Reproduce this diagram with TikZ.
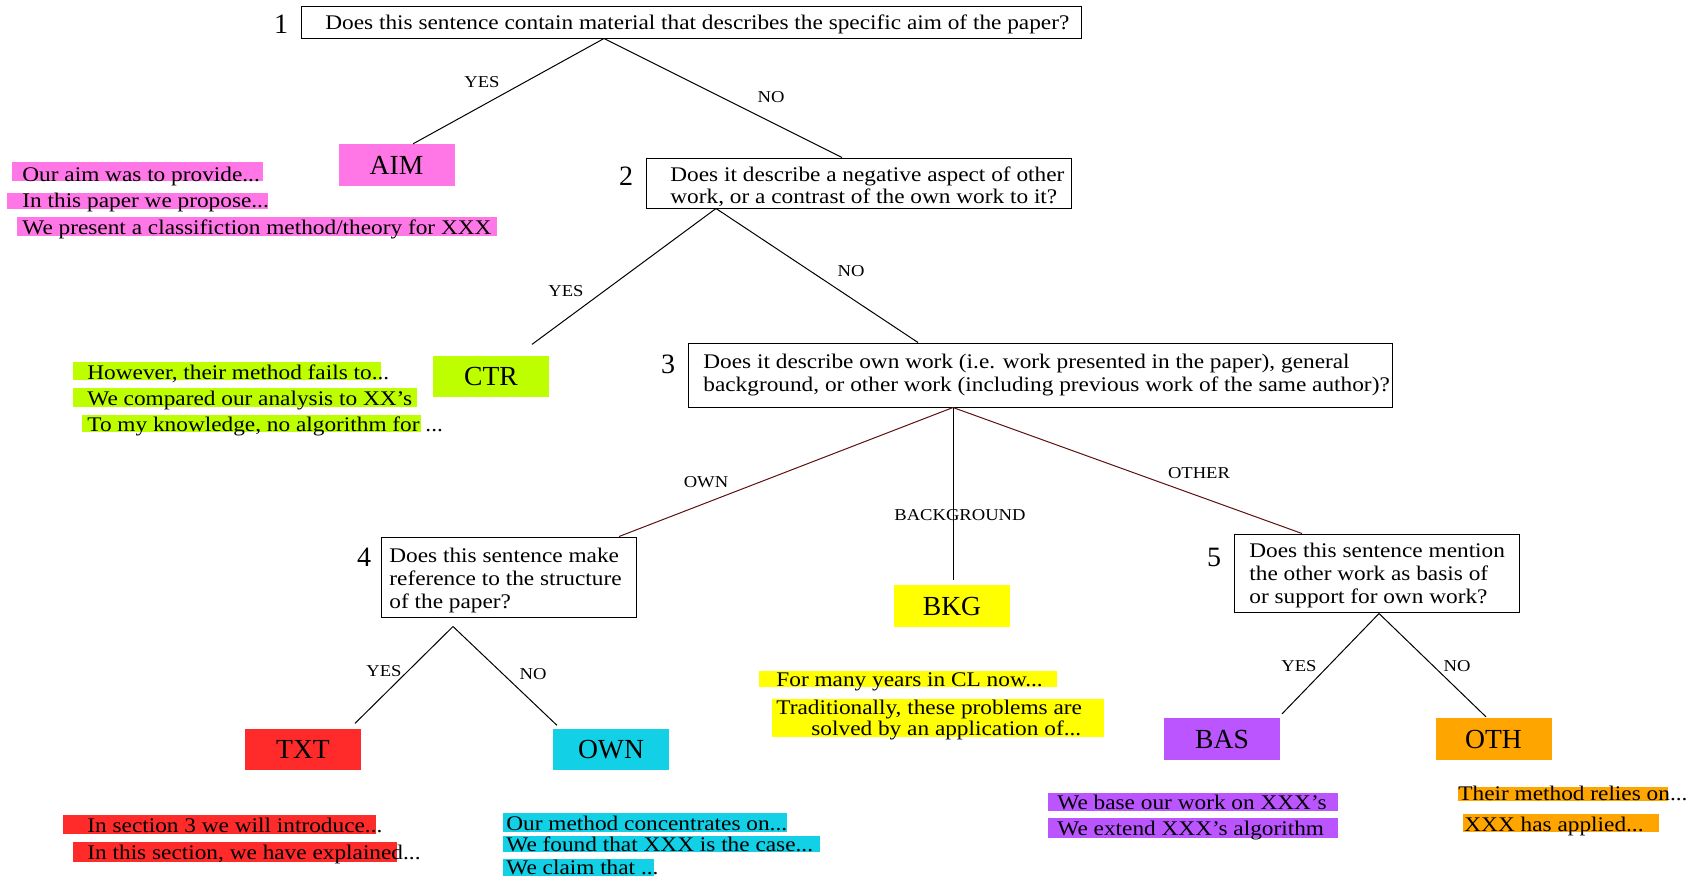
\documentclass[tikz,border=0pt]{standalone}
\usepackage{fontspec}
\setmainfont{Liberation Serif}
\newfontfamily\qfont{Liberation Serif}[FakeStretch=1.12]
\usetikzlibrary{calc,fit}
\definecolor{cAIM}{RGB}{255,119,230}
\definecolor{cCTR}{RGB}{190,255,0}
\definecolor{cTXT}{RGB}{255,42,42}
\definecolor{cOWN}{RGB}{18,208,230}
\definecolor{cBKG}{RGB}{255,255,0}
\definecolor{cBAS}{RGB}{187,85,255}
\definecolor{cOTH}{RGB}{255,165,0}
\definecolor{cLine}{RGB}{95,15,15}
\begin{document}
\begin{tikzpicture}[x=0.5pt,y=-0.5pt,
  qbox/.style={draw,line width=0.5pt,inner sep=0pt},
  qline/.style={anchor=base west,inner sep=0pt,font=\qfont\fontsize{10.4}{11.5}\selectfont},
  sline/.style={anchor=base west,inner sep=0pt,font=\qfont\fontsize{10.4}{11.5}\selectfont},
  numlab/.style={inner sep=0pt,font=\fontsize{14}{16}\selectfont},
  brlab/.style={inner sep=0pt,font=\qfont\fontsize{8.3}{10}\selectfont},
  cbox/.style={inner sep=0pt,minimum width=58pt,minimum height=20.75pt,font=\fontsize{13.8}{15}\selectfont},
  conn/.style={line width=0.5pt},
  dconn/.style={line width=0.5pt,draw=cLine}]
\useasboundingbox (0,0) rectangle (1700,880);

% ---------- question boxes ----------
\node[qbox,fit={(301,6)(1081,38)}] (q1) {};
\node[qline] (q1a) at (325,29) {Does this sentence contain material that describes the specific aim of the paper?};
\node[numlab] (n1) at (281,24) {1};

\node[qbox,fit={(646,158)(1071,208)}] (q2) {};
\node[qline] (q2a) at (670,181) {Does it describe a negative aspect of other};
\node[qline] (q2b) at (670,203) {work, or a contrast of the own work to it?};
\node[numlab] (n2) at (626,176) {2};

\node[qbox,fit={(688,343)(1392,407)}] (q3) {};
\node[qline] (q3a) at (703,368) {Does it describe own work (i.e. work presented in the paper), general};
\node[qline] (q3b) at (703,391) {background, or other work (including previous work of the same author)?};
\node[numlab] (n3) at (668,364) {3};

\node[qbox,fit={(381,537)(636,617)}] (q4) {};
\node[qline] (q4a) at (389,562) {Does this sentence make};
\node[qline] (q4b) at (389,585) {reference to the structure};
\node[qline] (q4c) at (389,608) {of the paper?};
\node[numlab] (n4) at (364,557) {4};

\node[qbox,fit={(1234,534)(1519,612)}] (q5) {};
\node[qline] (q5a) at (1249,557) {Does this sentence mention};
\node[qline] (q5b) at (1249,580) {the other work as basis of};
\node[qline] (q5c) at (1249,603) {or support for own work?};
\node[numlab] (n5) at (1214,557) {5};

% ---------- category boxes ----------
\node[cbox,fill=cAIM] (aim) at (396.5,165) {AIM};
\node[cbox,fill=cCTR] (ctr) at (491,376.5) {CTR};
\node[cbox,fill=cTXT] (txt) at (303,749.5) {TXT};
\node[cbox,fill=cOWN] (own) at (611,749.5) {OWN};
\node[cbox,fill=cBKG] (bkg) at (952,606) {BKG};
\node[cbox,fill=cBAS] (bas) at (1222,739) {BAS};
\node[cbox,fill=cOTH] (oth) at (1493.5,739) {OTH};

% ---------- connectors ----------
\draw[conn] ($(q1.south)+(-87,0)$) -- ($(aim.north)+(16.5,0)$);
\draw[conn] ($(q1.south)+(-87,0)$) -- ($(q2.north)+(-16.5,0)$);
\draw[conn] ($(q2.south)+(-142.5,0)$) -- ($(ctr.north)+(41,-11)$);
\draw[conn] ($(q2.south)+(-142.5,0)$) -- ($(q3.north)+(-122,0)$);
\draw[dconn] ($(q3.south)+(-87,0)$) -- ($(q4.north)+(110.5,0)$);
\draw[conn] ($(q3.south)+(-87,0)$) -- ($(bkg.north)+(1,-5)$);
\draw[dconn] ($(q3.south)+(-87,0)$) -- ($(q5.north)+(-74.5,0)$);
\draw[conn] ($(q4.south)+(-55.5,9)$) -- ($(txt.north)+(52,-5)$);
\draw[conn] ($(q4.south)+(-55.5,9)$) -- ($(own.north)+(-54,-3)$);
\draw[conn] ($(q5.south)+(2.5,1)$) -- ($(bas.north)+(60,-4)$);
\draw[conn] ($(q5.south)+(2.5,1)$) -- ($(oth.north)+(-7.5,-1)$);

% ---------- branch labels ----------
\node[brlab] (l1y) at (482,82) {YES};
\node[brlab] (l1n) at (771,97) {NO};
\node[brlab] (l2y) at (566,291) {YES};
\node[brlab] (l2n) at (851,271) {NO};
\node[brlab] (l3o) at (706,482) {OWN};
\node[brlab] (l3b) at (960,515) {BACKGROUND};
\node[brlab] (l3t) at (1199,473) {OTHER};
\node[brlab] (l4y) at (384,671) {YES};
\node[brlab] (l4n) at (533,674) {NO};
\node[brlab] (l5y) at (1299,666) {YES};
\node[brlab] (l5n) at (1457,666) {NO};

% ---------- example sentences ----------
\fill[cAIM] (12,162) rectangle (263,181);
\fill[cAIM] (7,193) rectangle (268,209);
\fill[cAIM] (17,217) rectangle (497,236);
\node[sline] (sa1) at (22,181) {Our aim was to provide...};
\node[sline] (sa2) at (22,207) {In this paper we propose...};
\node[sline] (sa3) at (22,234) {We present a classifiction method/theory for XXX};

\fill[cCTR] (73,362) rectangle (381,380);
\fill[cCTR] (73,388) rectangle (417,407);
\fill[cCTR] (82,415) rectangle (421,432);
\node[sline] (sc1) at (87,379) {However, their method fails to...};
\node[sline] (sc2) at (87,405) {We compared our analysis to XX’s};
\node[sline] (sc3) at (87,431) {To my knowledge, no algorithm for ...};

\fill[cTXT] (63,815) rectangle (376,834);
\fill[cTXT] (73,842) rectangle (397,862);
\node[sline] (st1) at (87,832) {In section 3 we will introduce...};
\node[sline] (st2) at (87,859) {In this section, we have explained...};

\fill[cOWN] (503,813) rectangle (787,832);
\fill[cOWN] (503,836) rectangle (820,852);
\fill[cOWN] (503,859) rectangle (654,876);
\node[sline] (so1) at (506,830) {Our method concentrates on...};
\node[sline] (so2) at (506,851) {We found that XXX is the case...};
\node[sline] (so3) at (506,874) {We claim that ...};

\fill[cBKG] (759,671) rectangle (1057,687);
\fill[cBKG] (772,699) rectangle (1104,737);
\node[sline] (sb1) at (776,686) {For many years in CL now...};
\node[sline] (sb2) at (776,714) {Traditionally, these problems are};
\node[sline] (sb3) at (811,735) {solved by an application of...};

\fill[cBAS] (1048,793) rectangle (1338,811);
\fill[cBAS] (1048,818) rectangle (1338,838);
\node[sline] (sd1) at (1057,809) {We base our work on XXX’s};
\node[sline] (sd2) at (1057,835) {We extend XXX’s algorithm};

\fill[cOTH] (1458,787) rectangle (1668,801);
\fill[cOTH] (1463,814) rectangle (1659,832);
\node[sline] (se1) at (1458,800) {Their method relies on...};
\node[sline] (se2) at (1464,831) {XXX has applied...};
\end{tikzpicture}
\end{document}
